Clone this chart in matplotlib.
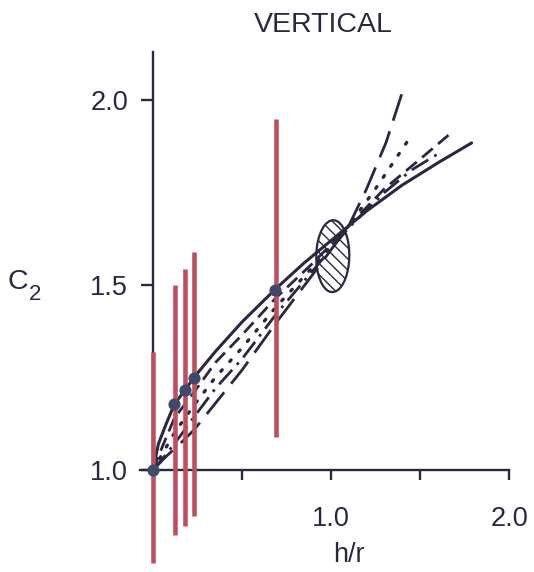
import matplotlib
matplotlib.use("Agg")
import matplotlib.pyplot as plt
from matplotlib.patches import Ellipse

plt.rcParams['font.family'] = ['Liberation Sans', 'DejaVu Sans']

# ---- data ----
solid_x = [0, 0.03, 0.07, 0.12, 0.18, 0.23, 0.35, 0.5, 0.69, 0.85, 1.0, 1.2, 1.4, 1.6, 1.79]
solid_y = [1.0, 1.07, 1.12, 1.178, 1.216, 1.25, 1.32, 1.40, 1.49, 1.56, 1.62, 1.70, 1.77, 1.83, 1.884]

dash_x = [0, 0.05, 0.12, 0.23, 0.35, 0.5, 0.69, 0.9, 1.1, 1.3, 1.5, 1.66]
dash_y = [1.0, 1.06, 1.14, 1.21, 1.29, 1.365, 1.465, 1.56, 1.66, 1.76, 1.84, 1.905]

dot_x = [0, 0.06, 0.12, 0.23, 0.35, 0.5, 0.69, 0.9, 1.1, 1.25, 1.46]
dot_y = [1.0, 1.05, 1.10, 1.175, 1.25, 1.33, 1.44, 1.55, 1.66, 1.76, 1.91]

dashdot_x = [0, 0.07, 0.15, 0.23, 0.35, 0.5, 0.69, 0.9, 1.1, 1.3, 1.45, 1.62]
dashdot_y = [1.0, 1.04, 1.09, 1.143, 1.22, 1.30, 1.42, 1.54, 1.655, 1.75, 1.81, 1.86]

long_x = [0, 0.07, 0.15, 0.23, 0.35, 0.5, 0.69, 0.9, 1.1, 1.2, 1.31, 1.40]
long_y = [1.0, 1.035, 1.07, 1.108, 1.18, 1.27, 1.397, 1.53, 1.66, 1.76, 1.886, 2.02]

bar_x = [0.0, 0.124, 0.18, 0.23, 0.69]
bar_lo = [0.75, 0.823, 0.85, 0.876, 1.09]
bar_hi = [1.32, 1.50, 1.543, 1.589, 1.95]
pt_x = [0.0, 0.118, 0.18, 0.23, 0.685]
pt_y = [1.0, 1.178, 1.216, 1.249, 1.486]

ell_center = (1.01, 1.578)
ell_w, ell_h = 0.185, 0.195

xticks = [0.5, 1.0, 1.5, 2.0]
xticklabels = ['', '1.0', '', '2.0']
yticks = [1.0, 1.5, 2.0]
yticklabels = ['1.0', '1.5', '2.0']

# ---- figure ----
W, H = 534, 572
fig = plt.figure(figsize=(W / 100, H / 100), dpi=100)
ax = fig.add_axes([0, 0, 1, 1])
x0px, xs = 153, 178.0
y1px, ys = 470, 370.0
ax.set_xlim(-x0px / xs, (W - x0px) / xs)
ax.set_ylim(1 - (H - y1px) / ys, 1 + y1px / ys)
ax.patch.set_alpha(0)

ink = '#2b2740'
red = '#bf4f5e'

for s in ['top', 'right']:
    ax.spines[s].set_visible(False)
ax.spines['left'].set_position(('data', 0))
ax.spines['bottom'].set_position(('data', 1.0))
ax.spines['left'].set_bounds(1.0, 2.13)
ax.spines['bottom'].set_bounds(-0.073, 2.0)
for s in ['left', 'bottom']:
    ax.spines[s].set_color(ink)
    ax.spines[s].set_linewidth(1.7)

ax.set_xticks(xticks)
ax.set_xticklabels(xticklabels)
ax.set_yticks(yticks)
ax.set_yticklabels(yticklabels)
ax.tick_params(axis='x', direction='out', length=7, width=1.7, color=ink,
               pad=19, labelsize=19.5, labelcolor=ink)
ax.tick_params(axis='y', direction='out', length=9, width=1.7, color=ink,
               pad=9, labelsize=19.5, labelcolor=ink)

lw = 2.0
ax.plot(solid_x, solid_y, color=ink, lw=2.2, zorder=3, solid_capstyle='round')
ax.plot(dash_x, dash_y, color=ink, lw=lw, dashes=(5, 2.5), zorder=3)
ax.plot(dot_x, dot_y, color=ink, lw=2.4, dashes=(0.6, 3.4), dash_capstyle='round', zorder=3)
ax.plot(dashdot_x, dashdot_y, color=ink, lw=lw, dashes=(7, 2.5, 1, 2.5), zorder=3)
ax.plot(long_x, long_y, color=ink, lw=lw, dashes=(10, 4), zorder=3)

ax.add_patch(Ellipse(ell_center, ell_w, ell_h, angle=-15, facecolor='none',
                     edgecolor=ink, lw=1.6, hatch='\\\\\\', zorder=3))

ax.vlines(bar_x, bar_lo, bar_hi, colors=red, lw=3.3, zorder=4)
ax.scatter(pt_x, pt_y, s=60, color='#3f4a6b', zorder=5)

ax.text(-0.76, 1.508, 'C', fontsize=20.5, color=ink, ha='center', va='center')
ax.text(-0.665, 1.475, '2', fontsize=16, color=ink, ha='center', va='center')
ax.text(1.10, 0.77, 'h/r', fontsize=19.5, color=ink, ha='center', va='center')
ax.text(0.955, 2.203, 'VERTICAL', fontsize=20.5, color=ink, ha='center', va='center')

fig.savefig('out.png', dpi=100)
